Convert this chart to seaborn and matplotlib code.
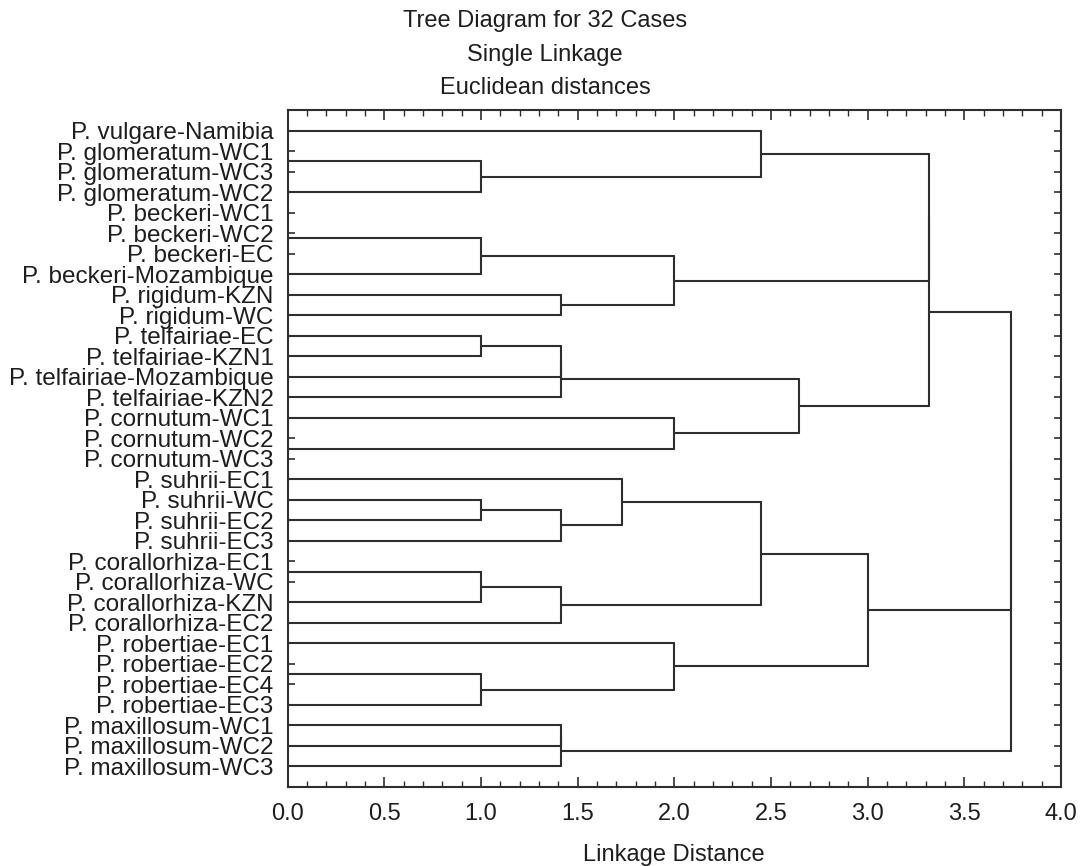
import numpy as np
import pandas as pd
import matplotlib
matplotlib.use("Agg")
import matplotlib.pyplot as plt
import seaborn as sns

# ---------------- data ----------------
case_labels = [
    "P. vulgare-Namibia", "P. glomeratum-WC1", "P. glomeratum-WC3", "P. glomeratum-WC2",
    "P. beckeri-WC1", "P. beckeri-WC2", "P. beckeri-EC", "P. beckeri-Mozambique",
    "P. rigidum-KZN", "P. rigidum-WC", "P. telfairiae-EC", "P. telfairiae-KZN1",
    "P. telfairiae-Mozambique", "P. telfairiae-KZN2", "P. cornutum-WC1", "P. cornutum-WC2",
    "P. cornutum-WC3", "P. suhrii-EC1", "P. suhrii-WC", "P. suhrii-EC2",
    "P. suhrii-EC3", "P. corallorhiza-EC1", "P. corallorhiza-WC", "P. corallorhiza-KZN",
    "P. corallorhiza-EC2", "P. robertiae-EC1", "P. robertiae-EC2", "P. robertiae-EC4",
    "P. robertiae-EC3", "P. maxillosum-WC1", "P. maxillosum-WC2", "P. maxillosum-WC3",
]
# merge steps: node ids < 32 are cases, node 32+i is the result of merge i
merge_left = [1, 32, 0, 4, 35, 36, 8, 37, 10, 40, 41, 15, 14, 42, 34, 46,
              18, 48, 17, 21, 51, 52, 50, 26, 55, 25, 54, 29, 59, 47, 61]
merge_right = [2, 3, 33, 5, 6, 7, 9, 38, 11, 12, 13, 16, 43, 44, 39, 45,
               19, 20, 49, 22, 23, 24, 53, 27, 28, 56, 57, 30, 31, 58, 60]
merge_height = [0.0, 1.0, 2.449, 0.0, 0.0, 1.0, 1.414, 2.0, 1.0, 1.414, 1.414, 0.0, 2.0, 2.646, 3.317, 3.317,
                1.0, 1.414, 1.732, 0.0, 1.0, 1.414, 2.449, 0.0, 1.0, 2.0, 3.0, 1.414, 1.414, 3.742, 3.742]
x_ticks = [0.0, 0.5, 1.0, 1.5, 2.0, 2.5, 3.0, 3.5, 4.0]
title_lines = ["Tree Diagram for 32 Cases", "Single Linkage", "Euclidean distances"]
x_title = "Linkage Distance"

# ---------------- build dendrogram segments ----------------
n = len(case_labels)
pos = {i: float(i) for i in range(n)}
hgt = {i: 0.0 for i in range(n)}
rows = []
seg = 0
for k, (a, b, h) in enumerate(zip(merge_left, merge_right, merge_height)):
    ya, yb = pos[a], pos[b]
    if h > 0:
        for (x0, y0, x1, y1) in [(hgt[a], ya, h, ya), (h, ya, h, yb), (hgt[b], yb, h, yb)]:
            if x0 == x1 and y0 == y1:
                continue
            rows.append({"seg": seg, "distance": x0, "case": y0})
            rows.append({"seg": seg, "distance": x1, "case": y1})
            seg += 1
    pos[n + k] = (ya + yb) / 2.0
    hgt[n + k] = h
df = pd.DataFrame(rows)

# ---------------- plot ----------------
sns.set_style("white")
plt.rcParams["font.family"] = ["Liberation Sans", "DejaVu Sans"]
text_col = "#1e1e1e"
line_col = "#2e2e2e"

fig = plt.figure(figsize=(10.81, 8.66), dpi=100)
ax = fig.add_axes([287.5 / 1081, 1 - 787 / 866, (1061 - 287.5) / 1081, (787 - 110) / 866])

sns.lineplot(data=df, x="distance", y="case", units="seg", estimator=None, sort=False,
             color=line_col, linewidth=1.5, legend=False, ax=ax)

ax.set_xlim(0, 4)
ax.set_ylim(32, -1)
ax.set_xticks(x_ticks)
ax.set_xticklabels([f"{t:.1f}" for t in x_ticks])
ax.set_xticks(np.arange(0, 4.001, 0.1), minor=True)
ax.set_yticks(range(n))
ax.set_yticklabels(case_labels)

for s in ax.spines.values():
    s.set_visible(True)
    s.set_color(line_col)
    s.set_linewidth(1.5)

ax.tick_params(axis="y", which="major", direction="in", length=5, width=1.2, color=line_col,
               left=True, right=True, labelleft=True, labelright=False,
               labelsize=17.5, labelcolor=text_col, pad=10)
ax.tick_params(axis="x", which="major", direction="in", length=7, width=1.2, color=line_col,
               top=True, bottom=True, labelsize=17, labelcolor=text_col, pad=11.5)
ax.tick_params(axis="x", which="minor", direction="in", length=4, width=1.0, color=line_col,
               top=True, bottom=True)

ax.set_xlabel(x_title, fontsize=17, color=text_col, labelpad=14)
ax.set_ylabel("")
ax.grid(False)

for i, line in enumerate(title_lines):
    fig.text(545 / 1081, 1 - (21.5 + 33 * i) / 866, line, ha="center", va="center",
             fontsize=17, color=text_col)

fig.savefig("out.png", dpi=100, facecolor="white")
